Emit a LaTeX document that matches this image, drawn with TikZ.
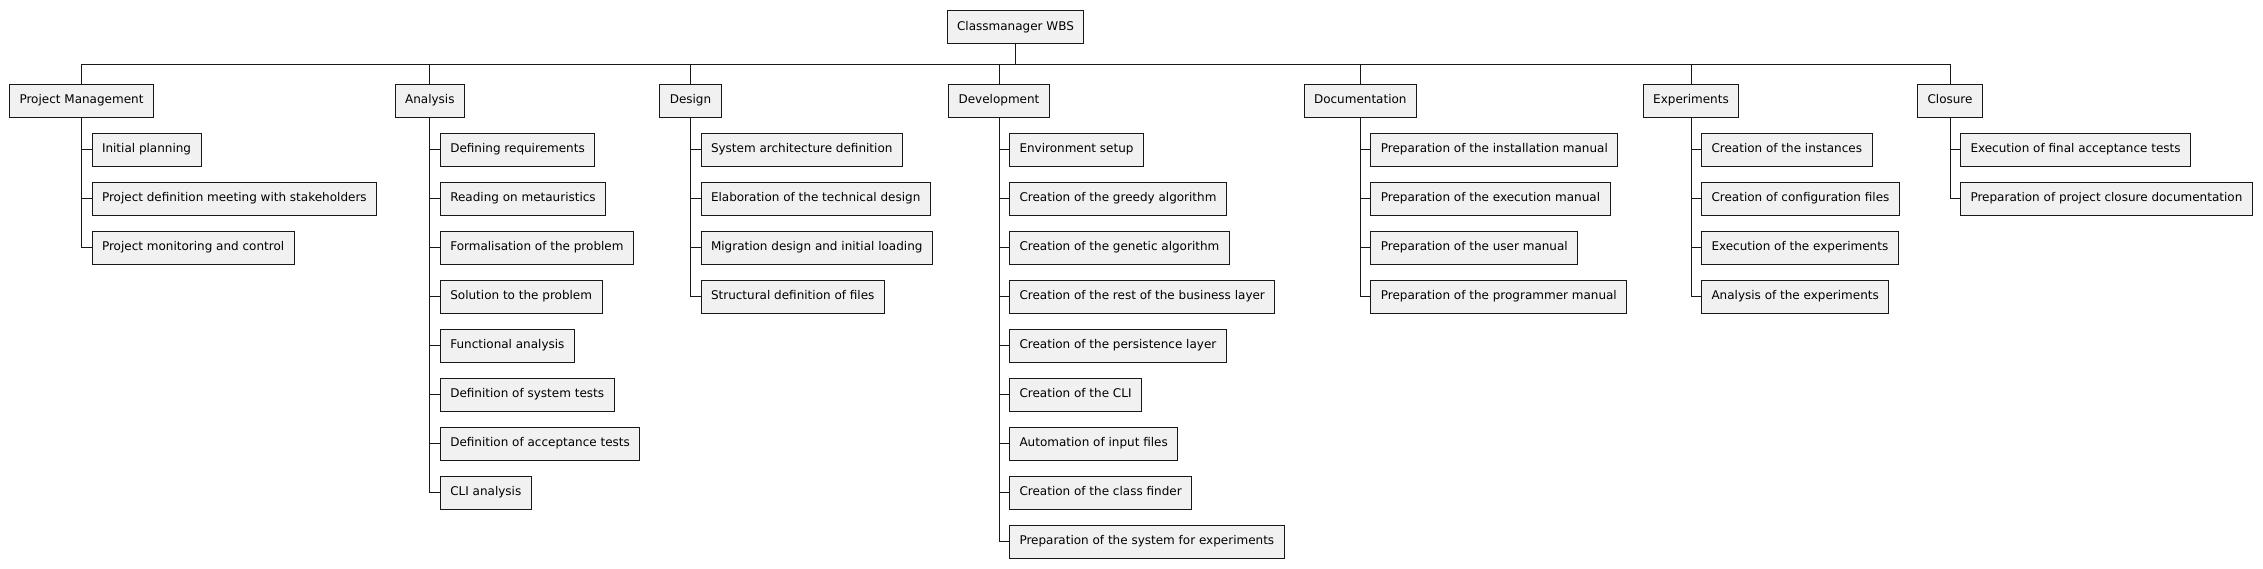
\documentclass[tikz,border=0pt]{standalone}
\usepackage{fontspec}
\setmainfont{DejaVu Sans}
\definecolor{boxfill}{HTML}{F1F1F1}
\definecolor{boxline}{HTML}{181818}
\tikzset{
	wbsbox/.style={draw=boxline, fill=boxfill, line width=1pt, inner xsep=10pt, minimum height=33pt,
		text height=9pt, text depth=2.5pt, font=\fontsize{12}{14}\selectfont},
	task/.style={wbsbox, anchor=west},
	wbsline/.style={draw=boxline, line width=1pt}
}

\begin{document}
\begin{tikzpicture}[x=1pt, y=-1pt]
		\useasboundingbox (0, 0) rectangle (2263, 568);
		
		\node[wbsbox] (root) at (1015.5, 27) {Classmanager WBS};
		
		\node[wbsbox] (pm) at (81.5, 100.5) {Project Management};
		\node[wbsbox] (ana) at (429.8, 100.5) {Analysis};
		\node[wbsbox] (des) at (690.5, 100.5) {Design};
		\node[wbsbox] (dev) at (999, 100.5) {Development};
		\node[wbsbox] (doc) at (1360.3, 100.5) {Documentation};
		\node[wbsbox] (exp) at (1691, 100.5) {Experiments};
		\node[wbsbox] (clo) at (1950, 100.5) {Closure};
		
		\node[task] (pm1) at (91.5, 149.5) {Initial planning};
		\node[task] (pm2) at (91.5, 198.5) {Project definition meeting with stakeholders};
		\node[task] (pm3) at (91.5, 247.5) {Project monitoring and control};
		
		\node[task] (ana1) at (439.8, 149.5) {Defining requirements};
		\node[task] (ana2) at (439.8, 198.5) {Reading on metauristics};
		\node[task] (ana3) at (439.8, 247.5) {Formalisation of the problem};
		\node[task] (ana4) at (439.8, 296.5) {Solution to the problem};
		\node[task] (ana5) at (439.8, 345.5) {Functional analysis};
		\node[task] (ana6) at (439.8, 394.5) {Definition of system tests};
		\node[task] (ana7) at (439.8, 443.5) {Definition of acceptance tests};
		\node[task] (ana8) at (439.8, 492.5) {CLI analysis};
		
		\node[task] (des1) at (700.5, 149.5) {System architecture definition};
		\node[task] (des2) at (700.5, 198.5) {Elaboration of the technical design};
		\node[task] (des3) at (700.5, 247.5) {Migration design and initial loading};
		\node[task] (des4) at (700.5, 296.5) {Structural definition of files};
		
		\node[task] (dev1) at (1009, 149.5) {Environment setup};
		\node[task] (dev2) at (1009, 198.5) {Creation of the greedy algorithm};
		\node[task] (dev3) at (1009, 247.5) {Creation of the genetic algorithm};
		\node[task] (dev4) at (1009, 296.5) {Creation of the rest of the business layer};
		\node[task] (dev5) at (1009, 345.5) {Creation of the persistence layer};
		\node[task] (dev6) at (1009, 394.5) {Creation of the CLI};
		\node[task] (dev7) at (1009, 443.5) {Automation of input files};
		\node[task] (dev8) at (1009, 492.5) {Creation of the class finder};
		\node[task] (dev9) at (1009, 541.5) {Preparation of the system for experiments};
		
		\node[task] (doc1) at (1370.3, 149.5) {Preparation of the installation manual};
		\node[task] (doc2) at (1370.3, 198.5) {Preparation of the execution manual};
		\node[task] (doc3) at (1370.3, 247.5) {Preparation of the user manual};
		\node[task] (doc4) at (1370.3, 296.5) {Preparation of the programmer manual};
		
		\node[task] (exp1) at (1701, 149.5) {Creation of the instances};
		\node[task] (exp2) at (1701, 198.5) {Creation of configuration files};
		\node[task] (exp3) at (1701, 247.5) {Execution of the experiments};
		\node[task] (exp4) at (1701, 296.5) {Analysis of the experiments};
		
		\node[task] (clo1) at (1960, 149.5) {Execution of final acceptance tests};
		\node[task] (clo2) at (1960, 198.5) {Preparation of project closure documentation};
		
		% root to phases
		\draw[wbsline] (root.south) -- +(0, 20) -| (pm.north);
		\draw[wbsline] (root.south) -- +(0, 20) -| (ana.north);
		\draw[wbsline] (root.south) -- +(0, 20) -| (des.north);
		\draw[wbsline] (root.south) -- +(0, 20) -| (dev.north);
		\draw[wbsline] (root.south) -- +(0, 20) -| (doc.north);
		\draw[wbsline] (root.south) -- +(0, 20) -| (exp.north);
		\draw[wbsline] (root.south) -- +(0, 20) -| (clo.north);
		
		% phases to tasks
		\draw[wbsline] (pm.south) |- (pm1.west);
		\draw[wbsline] (pm.south) |- (pm2.west);
		\draw[wbsline] (pm.south) |- (pm3.west);
		
		\draw[wbsline] (ana.south) |- (ana1.west);
		\draw[wbsline] (ana.south) |- (ana2.west);
		\draw[wbsline] (ana.south) |- (ana3.west);
		\draw[wbsline] (ana.south) |- (ana4.west);
		\draw[wbsline] (ana.south) |- (ana5.west);
		\draw[wbsline] (ana.south) |- (ana6.west);
		\draw[wbsline] (ana.south) |- (ana7.west);
		\draw[wbsline] (ana.south) |- (ana8.west);
		
		\draw[wbsline] (des.south) |- (des1.west);
		\draw[wbsline] (des.south) |- (des2.west);
		\draw[wbsline] (des.south) |- (des3.west);
		\draw[wbsline] (des.south) |- (des4.west);
		
		\draw[wbsline] (dev.south) |- (dev1.west);
		\draw[wbsline] (dev.south) |- (dev2.west);
		\draw[wbsline] (dev.south) |- (dev3.west);
		\draw[wbsline] (dev.south) |- (dev4.west);
		\draw[wbsline] (dev.south) |- (dev5.west);
		\draw[wbsline] (dev.south) |- (dev6.west);
		\draw[wbsline] (dev.south) |- (dev7.west);
		\draw[wbsline] (dev.south) |- (dev8.west);
		\draw[wbsline] (dev.south) |- (dev9.west);
		
		\draw[wbsline] (doc.south) |- (doc1.west);
		\draw[wbsline] (doc.south) |- (doc2.west);
		\draw[wbsline] (doc.south) |- (doc3.west);
		\draw[wbsline] (doc.south) |- (doc4.west);
		
		\draw[wbsline] (exp.south) |- (exp1.west);
		\draw[wbsline] (exp.south) |- (exp2.west);
		\draw[wbsline] (exp.south) |- (exp3.west);
		\draw[wbsline] (exp.south) |- (exp4.west);
		
		\draw[wbsline] (clo.south) |- (clo1.west);
		\draw[wbsline] (clo.south) |- (clo2.west);
	\end{tikzpicture}
\end{document}
